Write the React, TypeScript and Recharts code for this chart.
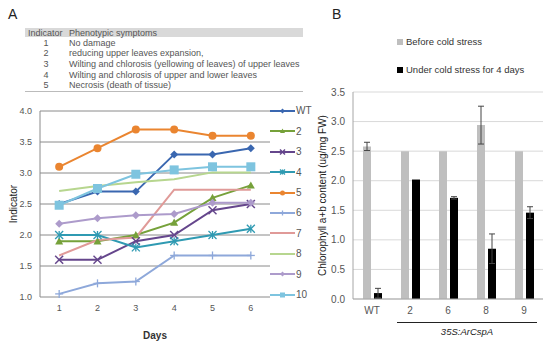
import { LineChart, Line, XAxis, YAxis, CartesianGrid, BarChart, Bar, ErrorBar } from 'recharts'

// panel A: indicator per day
const days = ['1', '2', '3', '4', '5', '6']
const wt = [2.5, 2.7, 2.7, 3.3, 3.3, 3.4]
const line2 = [1.9, 1.9, 2.0, 2.2, 2.6, 2.8]
const line3 = [1.6, 1.6, 1.9, 2.0, 2.4, 2.5]
const line4 = [2.0, 2.0, 1.8, 1.9, 2.0, 2.1]
const line5 = [3.1, 3.4, 3.7, 3.7, 3.6, 3.6]
const line6 = [1.05, 1.22, 1.25, 1.67, 1.67, 1.67]
const line7 = [1.67, 1.92, 1.96, 2.73, 2.73, 2.73]
const line8 = [2.71, 2.79, 2.85, 2.9, 3.01, 3.01]
const line9 = [2.18, 2.27, 2.32, 2.34, 2.52, 2.52]
const line10 = [2.48, 2.75, 2.98, 3.05, 3.1, 3.1]
const indicatorTicks = [1, 1.5, 2, 2.5, 3, 3.5, 4]

const indicators = ['1', '2', '3', '4', '5']
const symptoms = [
  'No damage',
  'reducing upper leaves  expansion,',
  'Wilting and chlorosis (yellowing of leaves) of upper leaves',
  'Wilting and chlorosis of upper and lower leaves',
  'Necrosis (death of tissue)',
]

// panel B: chlorophyll content
const lines = ['WT', '2', '6', '8', '9']
const before = [2.58, 2.5, 2.5, 2.94, 2.5]
const beforeErr = [0.07, 0, 0, 0.32, 0]
const under = [0.1, 2.02, 1.71, 0.85, 1.46]
const underErr = [0.08, 0, 0.02, 0.25, 0.1]
const chlTicks = [0, 0.5, 1, 1.5, 2, 2.5, 3, 3.5]

type Shape = 'diamond' | 'triangle' | 'x' | 'asterisk' | 'circle' | 'plus' | 'square' | 'none'

const series: { key: string; name: string; values: number[]; color: string; shape: Shape }[] = [
  { key: 'wt', name: 'WT', values: wt, color: '#3a67b0', shape: 'diamond' },
  { key: 's2', name: '2', values: line2, color: '#76a13a', shape: 'triangle' },
  { key: 's3', name: '3', values: line3, color: '#65468c', shape: 'x' },
  { key: 's4', name: '4', values: line4, color: '#2f9ab2', shape: 'asterisk' },
  { key: 's5', name: '5', values: line5, color: '#ea8530', shape: 'circle' },
  { key: 's6', name: '6', values: line6, color: '#8ea8da', shape: 'plus' },
  { key: 's7', name: '7', values: line7, color: '#e09a98', shape: 'none' },
  { key: 's8', name: '8', values: line8, color: '#b7d68f', shape: 'none' },
  { key: 's9', name: '9', values: line9, color: '#ad9bcb', shape: 'diamond' },
  { key: 's10', name: '10', values: line10, color: '#7ec4df', shape: 'square' },
]

const lineData = days.map((d, i) => {
  const row: Record<string, string | number> = { day: d }
  series.forEach((s) => (row[s.key] = s.values[i]))
  return row
})

const barData = lines.map((l, i) => ({
  line: l,
  before: before[i],
  beforeErr: beforeErr[i],
  under: under[i],
  underErr: underErr[i],
}))

const font = '"Liberation Sans", Arial, sans-serif'

function Marker({ shape, cx, cy, color, s = 4 }: { shape: Shape; cx: number; cy: number; color: string; s?: number }) {
  switch (shape) {
    case 'diamond':
      return <polygon points={`${cx},${cy - s} ${cx + s},${cy} ${cx},${cy + s} ${cx - s},${cy}`} fill={color} />
    case 'triangle':
      return <polygon points={`${cx},${cy - s} ${cx + s},${cy + s * 0.8} ${cx - s},${cy + s * 0.8}`} fill={color} />
    case 'x':
      return (
        <g stroke={color} strokeWidth={1.5}>
          <line x1={cx - s} y1={cy - s} x2={cx + s} y2={cy + s} />
          <line x1={cx - s} y1={cy + s} x2={cx + s} y2={cy - s} />
        </g>
      )
    case 'asterisk':
      return (
        <g stroke={color} strokeWidth={1.3}>
          <line x1={cx - s} y1={cy - s} x2={cx + s} y2={cy + s} />
          <line x1={cx - s} y1={cy + s} x2={cx + s} y2={cy - s} />
          <line x1={cx} y1={cy - s} x2={cx} y2={cy + s} />
        </g>
      )
    case 'circle':
      return <circle cx={cx} cy={cy} r={s} fill={color} />
    case 'plus':
      return (
        <g stroke={color} strokeWidth={1.3}>
          <line x1={cx - s} y1={cy} x2={cx + s} y2={cy} />
          <line x1={cx} y1={cy - s} x2={cx} y2={cy + s} />
        </g>
      )
    case 'square':
      return <rect x={cx - s} y={cy - s} width={s * 2} height={s * 2} fill={color} />
    default:
      return <g />
  }
}

function makeDot(shape: Shape, color: string) {
  if (shape === 'none') return false
  return (p: any) => (
    <g key={p.key ?? `${shape}-${p.index}`}>
      <Marker shape={shape} cx={p.cx} cy={p.cy} color={color} s={shape === 'square' ? 4.5 : 4} />
    </g>
  )
}

function LineLegend() {
  return (
    <div style={{ position: 'absolute', left: 270, top: 100.8, fontFamily: font, fontSize: 10, color: '#555' }}>
      {series.map((s) => (
        <div key={s.key} style={{ height: 20.4, display: 'flex', alignItems: 'center' }}>
          <svg width={25} height={10}>
            <line x1={0} y1={5} x2={25} y2={5} stroke={s.color} strokeWidth={2} />
            <Marker shape={s.shape} cx={12.5} cy={5} color={s.color} s={2.5} />
          </svg>
          <span style={{ marginLeft: 1 }}>{s.name}</span>
        </div>
      ))}
    </div>
  )
}

export default function App() {
  return (
    <div style={{ position: 'absolute', left: 0, top: 0, width: 550, height: 346, background: '#fff', overflow: 'hidden' }}>
      {/* panel labels */}
      <div style={{ position: 'absolute', left: 8, top: 6, fontFamily: font, fontSize: 14, color: '#222' }}>A</div>
      <div style={{ position: 'absolute', left: 332, top: 6, fontFamily: font, fontSize: 14, color: '#222' }}>B</div>

      {/* symptom table */}
      <div style={{ position: 'absolute', left: 25, top: 28, width: 278, height: 8.5, background: '#d9d9d9' }} />
      <div style={{ position: 'absolute', left: 28, top: 27.5, fontFamily: font, fontSize: 9, color: '#555', lineHeight: '10px' }}>Indicator</div>
      <div style={{ position: 'absolute', left: 69, top: 27.5, fontFamily: font, fontSize: 9, color: '#555', lineHeight: '10px' }}>Phenotypic symptoms</div>
      {indicators.map((ind, i) => (
        <div key={ind}>
          <div style={{ position: 'absolute', left: 40, width: 12, textAlign: 'center', top: 37.5 + i * 10.7, fontFamily: font, fontSize: 9, color: '#555', lineHeight: '10px' }}>{ind}</div>
          <div style={{ position: 'absolute', left: 69, top: 37.5 + i * 10.7, fontFamily: font, fontSize: 9, color: '#555', lineHeight: '10px', whiteSpace: 'nowrap' }}>{symptoms[i]}</div>
        </div>
      ))}
      <div style={{ position: 'absolute', left: 25, top: 90.5, width: 278, height: 1, background: '#bbb' }} />

      <div style={{ position: 'absolute', left: 0, top: 0 }}>
        <LineChart width={310} height={346} data={lineData} margin={{ top: 111, right: 40, bottom: 29, left: 12 }}>
          <CartesianGrid vertical={false} stroke="#8a8a8a" />
          <XAxis
            dataKey="day"
            scale="band"
            height={20}
            axisLine={false}
            tickLine={false}
            tick={{ fontSize: 9, fill: '#555', fontFamily: font }}
            label={{ value: 'Days', position: 'insideBottom', offset: -22, style: { fontSize: 10, fontWeight: 'bold', fill: '#333', fontFamily: font } }}
          />
          <YAxis
            type="number"
            domain={[1, 4]}
            ticks={indicatorTicks}
            width={28}
            axisLine={{ stroke: '#8a8a8a' }}
            tickLine={false}
            tickFormatter={(v: number) => v.toFixed(1)}
            tick={{ fontSize: 9, fill: '#555', fontFamily: font }}
            label={{ value: 'Indicator', angle: -90, position: 'insideLeft', offset: 5, dx: -4, style: { textAnchor: 'middle', fontSize: 10, fill: '#222', fontFamily: font } }}
          />
          {series.map((s) => (
            <Line
              key={s.key}
              type="linear"
              dataKey={s.key}
              name={s.name}
              stroke={s.color}
              strokeWidth={2}
              dot={makeDot(s.shape, s.color)}
              activeDot={false}
              isAnimationActive={false}
            />
          ))}
        </LineChart>
      </div>
      <LineLegend />

      {/* panel B legend */}
      <div style={{ position: 'absolute', left: 397, top: 36, fontFamily: font, fontSize: 9.5, color: '#333', display: 'flex', alignItems: 'center' }}>
        <span style={{ display: 'inline-block', width: 6, height: 6, background: '#bfbfbf', marginRight: 3 }} />
        Before cold stress
      </div>
      <div style={{ position: 'absolute', left: 397, top: 64, fontFamily: font, fontSize: 9.5, color: '#333', display: 'flex', alignItems: 'center' }}>
        <span style={{ display: 'inline-block', width: 6, height: 6, background: '#000', marginRight: 3 }} />
        Under cold stress for 4 days
      </div>

      <div style={{ position: 'absolute', left: 300, top: 0 }}>
        <BarChart width={250} height={346} data={barData} margin={{ top: 92, right: 7, bottom: 27, left: 23 }} barSize={8} barGap={3}>
          <CartesianGrid vertical={false} stroke="#d9d9d9" />
          <XAxis
            dataKey="line"
            height={20}
            axisLine={{ stroke: '#a6a6a6' }}
            tickLine={false}
            tick={{ fontSize: 10, fill: '#555', fontFamily: font }}
          />
          <YAxis
            type="number"
            domain={[0, 3.5]}
            ticks={chlTicks}
            width={30}
            axisLine={{ stroke: '#a6a6a6' }}
            tickLine={false}
            tickFormatter={(v: number) => v.toFixed(1)}
            tick={{ fontSize: 10, fill: '#555', fontFamily: font }}
            label={{ value: 'Chlorophyll a+b content (ug/mg FW)', angle: -90, position: 'insideLeft', offset: 5, dx: -6, style: { textAnchor: 'middle', fontSize: 10, fill: '#222', fontFamily: font } }}
          />
          <Bar dataKey="before" fill="#bfbfbf" isAnimationActive={false}>
            <ErrorBar dataKey="beforeErr" width={3} stroke="#444" strokeWidth={1} />
          </Bar>
          <Bar dataKey="under" fill="#000" isAnimationActive={false}>
            <ErrorBar dataKey="underErr" width={3} stroke="#444" strokeWidth={1} />
          </Bar>
        </BarChart>
      </div>

      {/* transgenic line bracket */}
      <div style={{ position: 'absolute', left: 397, top: 321.5, width: 140, height: 1, background: '#222' }} />
      <div style={{ position: 'absolute', left: 397, width: 140, top: 326, textAlign: 'center', fontFamily: font, fontSize: 9.5, fontStyle: 'italic', color: '#222' }}>35S:ArCspA</div>
    </div>
  )
}
